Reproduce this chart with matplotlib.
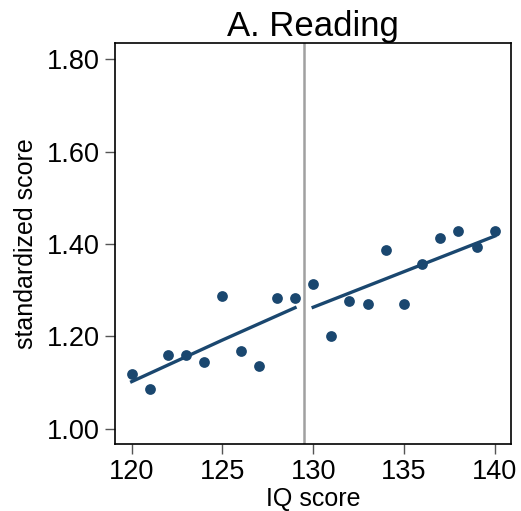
import matplotlib
matplotlib.use("Agg")
import matplotlib.pyplot as plt

plt.rcParams['font.family'] = ['Liberation Sans', 'DejaVu Sans']

# binned means by IQ score
iq = [120, 121, 122, 123, 124, 125, 126, 127, 128, 129,
      130, 131, 132, 133, 134, 135, 136, 137, 138, 139, 140]
score = [1.118, 1.087, 1.160, 1.160, 1.144, 1.287, 1.169, 1.136, 1.282, 1.284,
         1.313, 1.201, 1.276, 1.271, 1.387, 1.271, 1.357, 1.412, 1.427, 1.393, 1.429]

# fitted lines on each side of the cutoff
fit_left_x = [120, 125, 129]
fit_left_y = [1.102, 1.192, 1.262]
fit_right_x = [130, 135, 140]
fit_right_y = [1.263, 1.340, 1.417]

cutoff = 129.5
yticks = [1.00, 1.20, 1.40, 1.60, 1.80]
xticks = [120, 125, 130, 135, 140]

navy = '#1a476f'

fig = plt.figure(figsize=(5.21, 5.11), dpi=100)
ax = fig.add_axes([115 / 521, 1 - 444 / 511, 396 / 521, 401 / 511])

ax.axvline(cutoff, color='#a0a0a0', lw=1.8, zorder=1)
ax.scatter(iq, score, s=60, color=navy, zorder=3, linewidths=0)
ax.plot(fit_left_x, fit_left_y, color=navy, lw=2.4, zorder=2)
ax.plot(fit_right_x, fit_right_y, color=navy, lw=2.4, zorder=2)

ax.set_xlim(119.08, 140.9)
ax.set_ylim(0.967, 1.835)
ax.set_xticks(xticks)
ax.set_yticks(yticks)
ax.set_yticklabels([f'{v:.2f}' for v in yticks])
ax.tick_params(axis='both', length=7, width=1, color='#555555', labelsize=19.5, pad=4)

for side in ax.spines.values():
    side.set_linewidth(1.2)
    side.set_color('black')

ax.set_xlabel('IQ score', fontsize=18, labelpad=1)
ax.set_ylabel('standardized score', fontsize=18, labelpad=6)
ax.set_title('A. Reading', fontsize=25, pad=4)

fig.savefig('out.png', dpi=100)
